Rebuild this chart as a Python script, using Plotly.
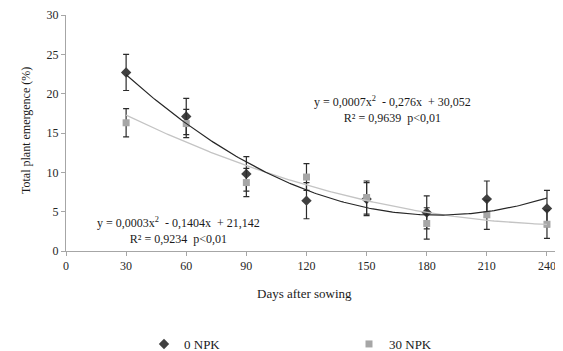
import numpy as np
import plotly.graph_objects as go

days = [30, 60, 90, 120, 150, 180, 210, 240]
npk0 = [22.7, 17.1, 9.8, 6.4, 6.6, 4.9, 6.6, 5.4]
npk0_err = [2.3, 2.3, 2.2, 2.3, 2.1, 2.1, 2.3, 2.3]
npk30 = [16.3, 16.2, 8.7, 9.4, 6.8, 3.5, 4.6, 3.4]
npk30_err = [1.8, 1.8, 1.8, 1.7, 2.1, 2.0, 1.85, 1.8]
x_ticks = [0, 30, 60, 90, 120, 150, 180, 210, 240]
y_ticks = [0, 5, 10, 15, 20, 25, 30]
eq0 = "y = 0,0007x<sup>2</sup>  - 0,276x  + 30,052<br>R² = 0,9639  p<0,01"
eq30 = "y = 0,0003x<sup>2</sup>  - 0,1404x  + 21,142<br>R² = 0,9234  p<0,01"

FONT = "Liberation Serif, Times New Roman, serif"
DARK = "#404040"
LIGHT = "#A6A6A6"

# page has an 8px body margin; figure coords = page coords - 8
W, H = 555, 343

xs = np.linspace(min(days), max(days), 200)
fit0 = np.polyval(np.polyfit(days, npk0, 2), xs)
fit30 = np.polyval(np.polyfit(days, npk30, 2), xs)

fig = go.Figure()
fig.add_trace(go.Scatter(
    x=days, y=npk0, mode="markers", name="0 NPK",
    marker=dict(symbol="diamond", size=8, color=DARK),
    error_y=dict(type="data", array=npk0_err, color="#2b2b2b", thickness=1.2, width=3),
))
fig.add_trace(go.Scatter(
    x=days, y=npk30, mode="markers", name="30 NPK",
    marker=dict(symbol="square", size=7, color=LIGHT),
    error_y=dict(type="data", array=npk30_err, color="#2b2b2b", thickness=1.2, width=3),
))
fig.add_trace(go.Scatter(x=xs, y=fit30, mode="lines", showlegend=False,
                         line=dict(color="#C4C4C4", width=1.3), hoverinfo="skip"))
fig.add_trace(go.Scatter(x=xs, y=fit0, mode="lines", showlegend=False,
                         line=dict(color="#262626", width=1.2), hoverinfo="skip"))

fig.add_annotation(x=162.7, y=17.98, xref="x", yref="y", text=eq0, showarrow=False,
                   font=dict(family=FONT, size=12, color="#1a1a1a"), align="center")
fig.add_annotation(x=55.9, y=2.67, xref="x", yref="y", text=eq30, showarrow=False,
                   font=dict(family=FONT, size=12, color="#1a1a1a"), align="center")

# axis titles
fig.add_annotation(x=(304 - 66) / 497, y=-(303 - 251) / 236, xref="paper", yref="paper",
                   text="Days after sowing", showarrow=False,
                   font=dict(family=FONT, size=13, color="#1a1a1a"))
fig.add_annotation(x=(17 - 66) / 497, y=(251 - 131) / 236, xref="paper", yref="paper",
                   text="Total plant emergence (%)", showarrow=False, textangle=-90,
                   font=dict(family=FONT, size=12, color="#1a1a1a"))

fig.update_layout(
    width=W, height=H,
    margin=dict(l=58, r=0, t=7, b=100, autoexpand=False),
    paper_bgcolor="white", plot_bgcolor="white",
    font=dict(family=FONT, size=12, color="#262626"),
    showlegend=True,
    legend=dict(orientation="h", xref="container", yref="container",
                x=136 / W, xanchor="left",
                y=1 - 336 / H, yanchor="middle",
                entrywidth=160, entrywidthmode="pixels", itemwidth=30,
                font=dict(family=FONT, size=13, color="#1a1a1a")),
    xaxis=dict(range=[0, 248], tickvals=x_ticks, showgrid=False, zeroline=False,
               showline=True, linecolor="#A6A6A6", linewidth=1, automargin=False,
               ticks="outside", ticklen=4, tickcolor="#A6A6A6",
               tickfont=dict(family=FONT, size=12)),
    yaxis=dict(range=[0, 30], tickvals=y_ticks, showgrid=False, zeroline=False,
               showline=True, linecolor="#A6A6A6", linewidth=1, automargin=False,
               ticks="outside", ticklen=4, tickcolor="#A6A6A6",
               tickfont=dict(family=FONT, size=12)),
)

fig.write_html("out.html")
